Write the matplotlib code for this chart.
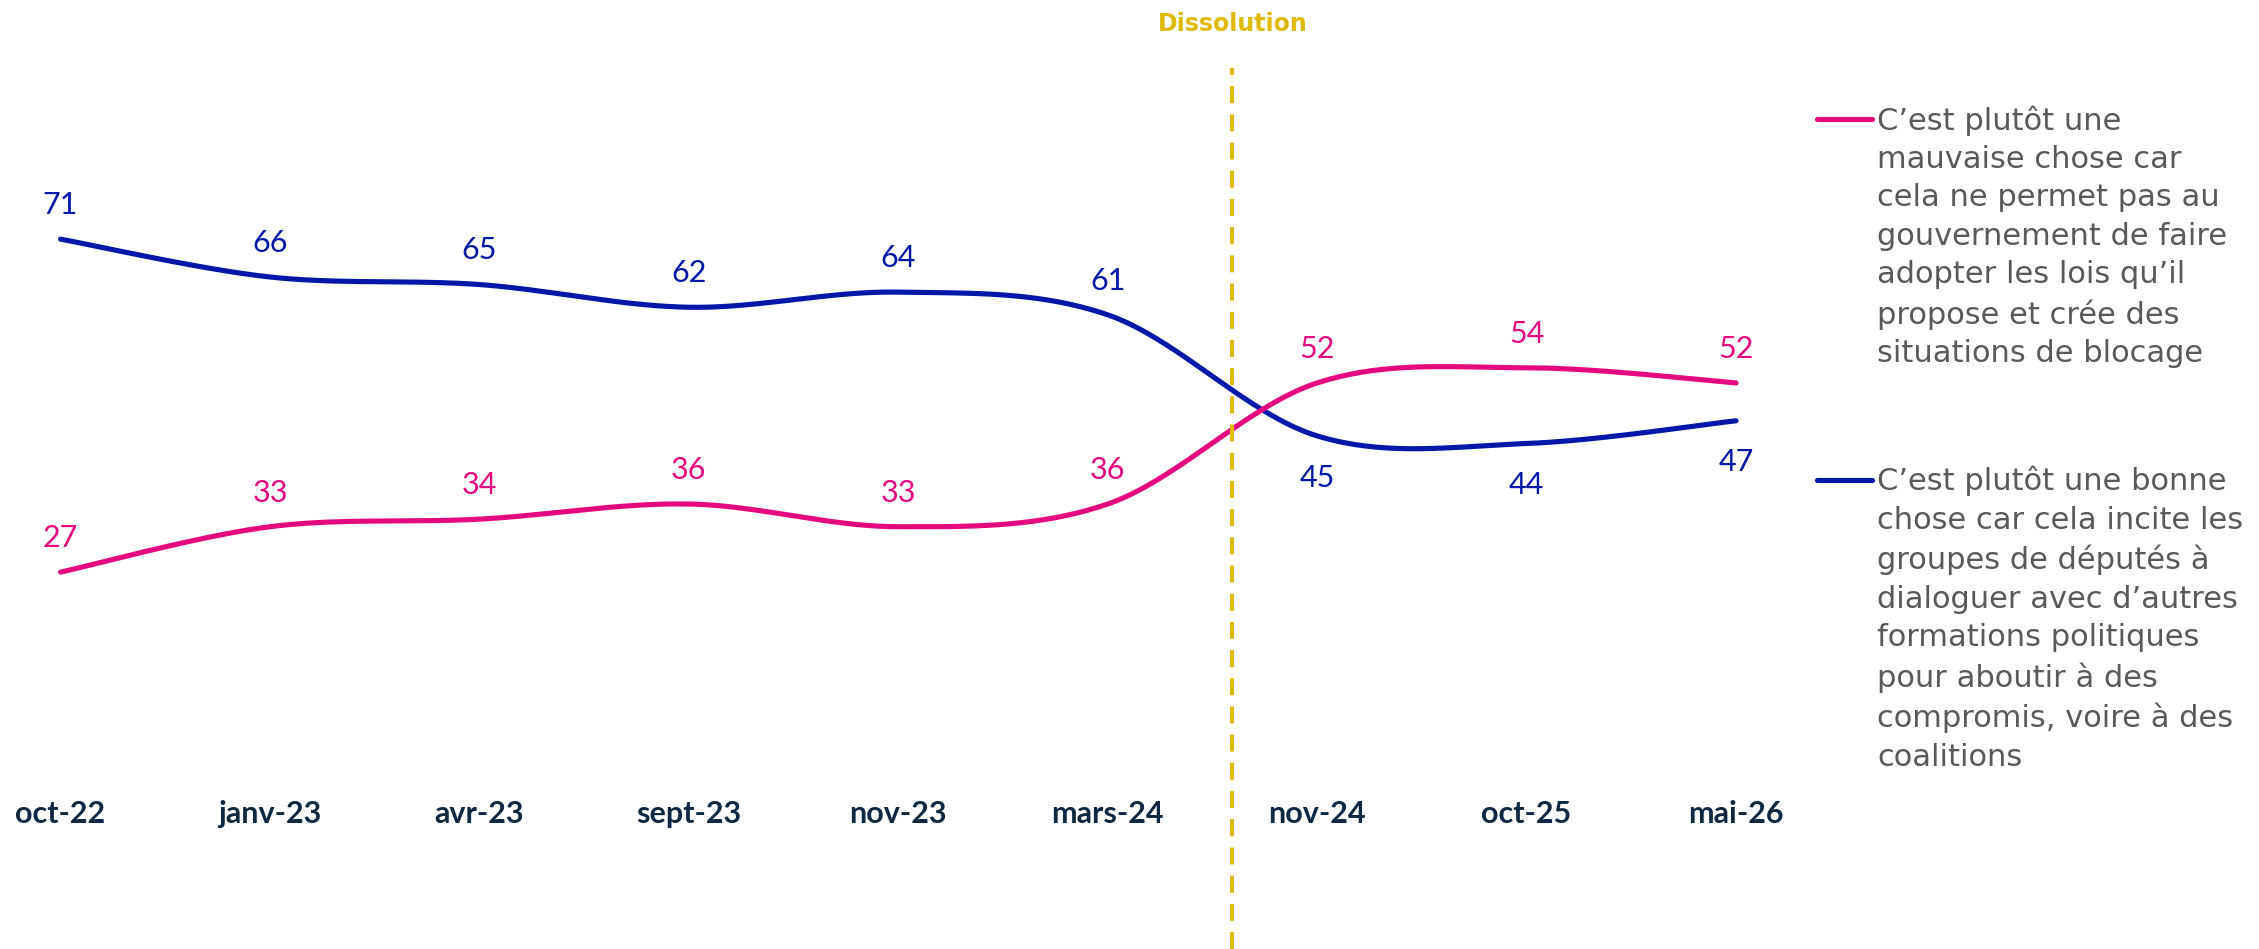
import numpy as np
import matplotlib.pyplot as plt
from matplotlib.lines import Line2D

# donnees du sondage
mois = ["oct-22", "janv-23", "avr-23", "sept-23", "nov-23", "mars-24", "nov-24", "oct-25", "mai-26"]
mauvaise = [27, 33, 34, 36, 33, 36, 52, 54, 52]
bonne = [71, 66, 65, 62, 64, 61, 45, 44, 47]

lib_mauvaise = ("C\u2019est plutôt une\nmauvaise chose car\ncela ne permet pas au\ngouvernement de faire\n"
                "adopter les lois qu\u2019il\npropose et crée des\nsituations de blocage")
lib_bonne = ("C\u2019est plutôt une bonne\nchose car cela incite les\ngroupes de députés à\n"
             "dialoguer avec d\u2019autres\nformations politiques\npour aboutir à des\ncompromis, voire à des\ncoalitions")

ROSE = "#e5097f"
BLEU = "#0018a8"
OR = "#dfb800"
MARINE = "#0e2841"
GRIS = "#595959"

plt.rcParams['font.family'] = ['Lato', 'DejaVu Sans']


def lisse(y, n=40):
    # courbe lissee facon Excel (Catmull-Rom)
    y = np.asarray(y, dtype=float)
    x = np.arange(len(y), dtype=float)
    px = np.concatenate([[x[0]], x, [x[-1]]])
    py = np.concatenate([[y[0]], y, [y[-1]]])
    xs, ys = [], []
    t = np.linspace(0, 1, n)
    for i in range(1, len(px) - 2):
        p0, p1, p2, p3 = py[i - 1], py[i], py[i + 1], py[i + 2]
        q0, q1, q2, q3 = px[i - 1], px[i], px[i + 1], px[i + 2]
        m1y, m2y = (p2 - p0) / 2, (p3 - p1) / 2
        m1x, m2x = (q2 - q0) / 2, (q3 - q1) / 2
        h00 = 2 * t**3 - 3 * t**2 + 1
        h10 = t**3 - 2 * t**2 + t
        h01 = -2 * t**3 + 3 * t**2
        h11 = t**3 - t**2
        xs.append(h00 * q1 + h10 * m1x + h01 * q2 + h11 * m2x)
        ys.append(h00 * p1 + h10 * m1y + h01 * p2 + h11 * m2y)
    return np.concatenate(xs), np.concatenate(ys)


fig = plt.figure(figsize=(22.59, 9.49), dpi=100)
ax = fig.add_axes([0, 0, 1, 1])
ax.set_xlim(-0.289, 10.497)
ax.set_ylim(-22.8, 102.6)
ax.axis("off")

x = np.arange(len(mois))

xb, yb = lisse(bonne)
xm, ym = lisse(mauvaise)
ax.plot(xb, yb, color=BLEU, lw=3.7, solid_capstyle="round")
ax.plot(xm, ym, color=ROSE, lw=3.7, solid_capstyle="round")

# dissolution
ax.axvline(5.595, ymin=0, ymax=(102.6 - 9.0 + 22.8) / 125.4, color=OR, lw=2.9, ls=(0, (4.2, 2.8)))
ax.text(5.595, 99.4, "Dissolution", color=OR, fontsize=17, fontweight="bold", ha="center", va="center",
        family="DejaVu Sans")

# etiquettes
for i in range(len(mois)):
    ax.text(x[i], bonne[i] + 4.5 if i < 6 else bonne[i] - 5.5, str(bonne[i]), color=BLEU,
            fontsize=22, ha="center", va="center")
    ax.text(x[i], mauvaise[i] + 4.5, str(mauvaise[i]), color=ROSE, fontsize=22, ha="center", va="center")
    ax.text(x[i], -4.98, mois[i], color=MARINE, fontsize=22, fontweight="bold", ha="center", va="center")

# legende
for yl, col, txt in [(119, ROSE, lib_mauvaise), (480, BLEU, lib_bonne)]:
    yf = 1 - yl / 949
    fig.add_artist(Line2D([1817 / 2259, 1872 / 2259], [yf, yf], color=col, lw=3.7,
                          solid_capstyle="round", transform=fig.transFigure))
    fig.text(1877 / 2259, yf + 14 / 949, txt, color=GRIS, fontsize=22, ha="left", va="top",
             linespacing=1.41, family="DejaVu Sans")

fig.savefig("out.png", dpi=100)
